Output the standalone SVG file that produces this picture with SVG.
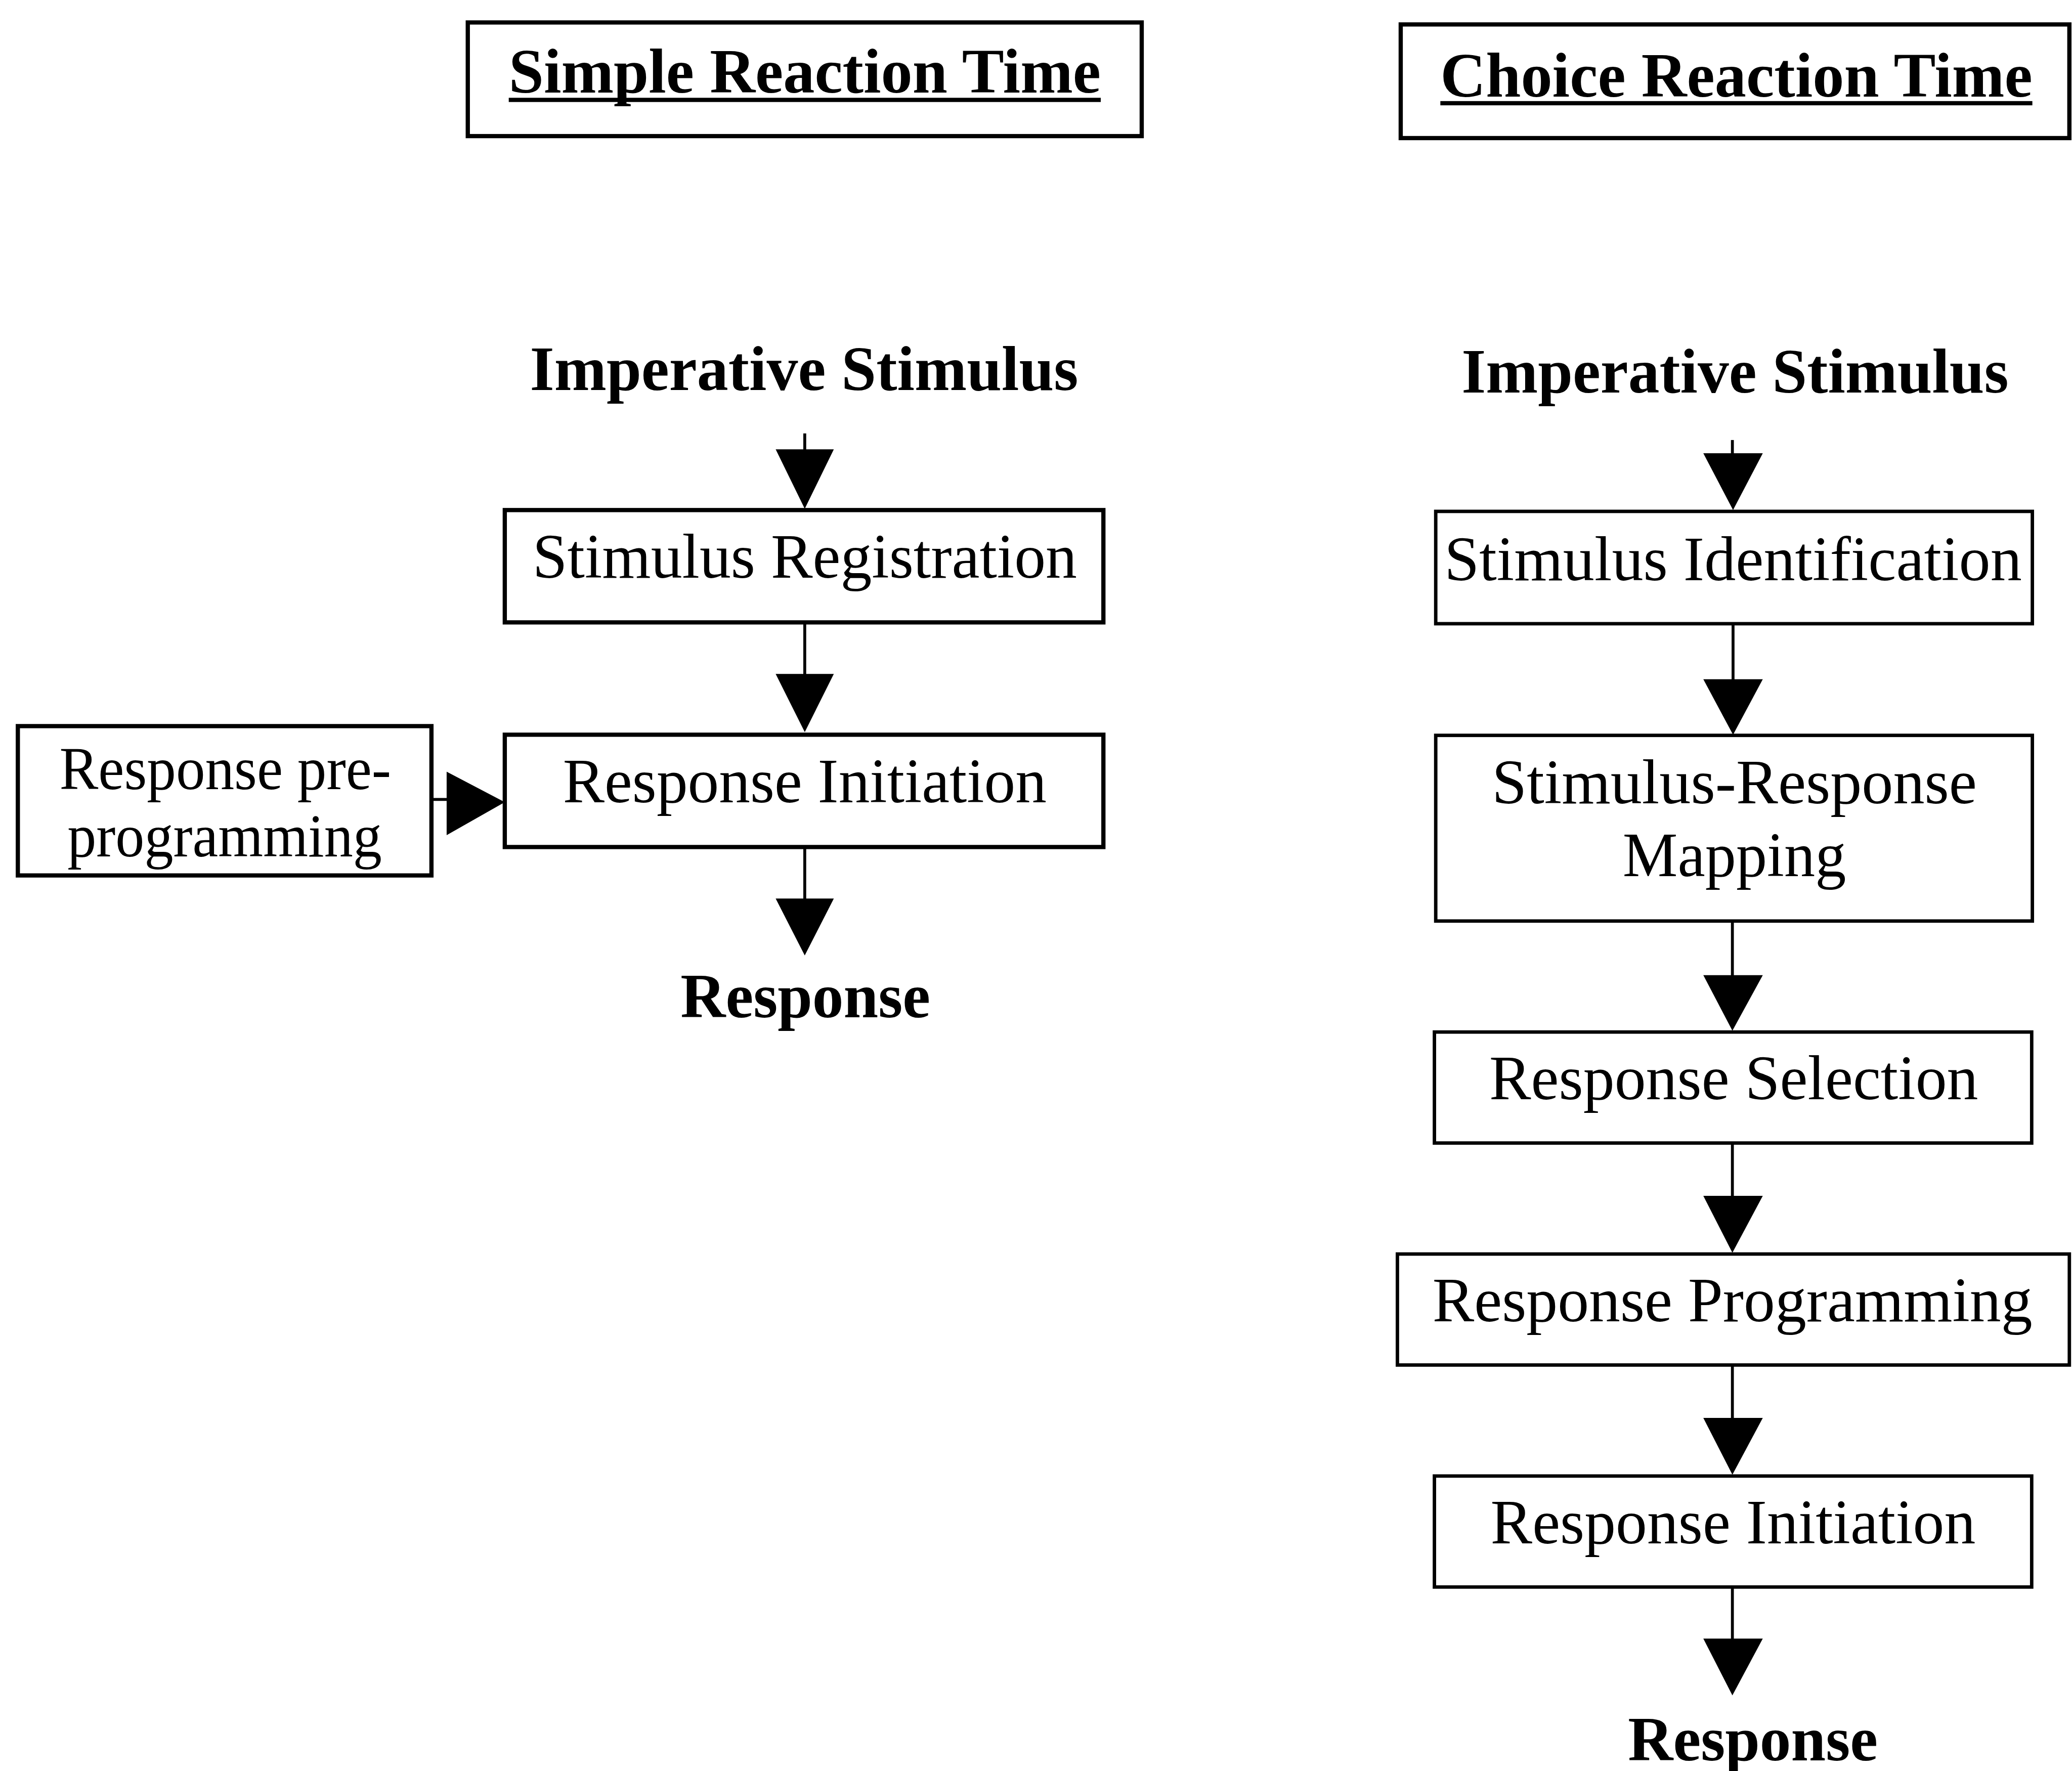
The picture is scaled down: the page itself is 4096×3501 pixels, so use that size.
<svg xmlns="http://www.w3.org/2000/svg" width="4096" height="3501" viewBox="0 0 4096 3501">
  <defs>
    <style>
      .box { fill: #fff; stroke: #000; stroke-width: 2.6; }
      .thick { stroke-width: 3.2; }
      .lbl { font-family: "Liberation Serif", "Times New Roman", serif; font-size: 47.5px; fill: #000; text-anchor: middle; }
      .small { font-size: 46px; }
      .bold { font-weight: bold; }
      .wire { stroke: #000; stroke-width: 2.2; fill: none; }
      .head { fill: #000; stroke: none; }
    </style>
  </defs>
  <rect width="4096" height="3501" fill="#fff"/>
  <g transform="scale(2.612245)">
    <!-- Simple reaction time column -->
    <g id="title-simple">
      <rect class="box thick" x="354" y="17" width="510" height="86"/>
      <text class="lbl bold" x="609" y="70" textLength="448" lengthAdjust="spacingAndGlyphs">Simple Reaction Time</text>
      <rect x="385" y="74" width="448" height="3.2" fill="#000"/>
    </g>
    <g id="stim-simple">
      <text class="lbl bold" x="608.5" y="295" textLength="415" lengthAdjust="spacingAndGlyphs">Imperative Stimulus</text>
    </g>
    <g id="stimulus-registration">
      <rect class="box thick" x="382" y="386" width="453" height="85"/>
      <text class="lbl" x="609" y="437" textLength="412" lengthAdjust="spacingAndGlyphs">Stimulus Registration</text>
    </g>
    <g id="response-initiation-simple">
      <rect class="box thick" x="382" y="556" width="453" height="85"/>
      <text class="lbl" x="609" y="607" textLength="366" lengthAdjust="spacingAndGlyphs">Response Initiation</text>
    </g>
    <g id="response-preprogramming">
      <rect class="box thick" x="13.5" y="549.5" width="313" height="113"/>
      <text class="lbl small" x="170.5" y="597" textLength="251" lengthAdjust="spacingAndGlyphs">Response pre-</text>
      <text class="lbl small" x="170" y="648" textLength="238" lengthAdjust="spacingAndGlyphs">programming</text>
    </g>
    <g id="response-simple">
      <text class="lbl bold" x="609.5" y="770" textLength="189" lengthAdjust="spacingAndGlyphs">Response</text>
    </g>

    <!-- Choice reaction time column -->
    <g id="title-choice">
      <rect class="box thick" x="1060" y="18.5" width="506" height="86"/>
      <text class="lbl bold" x="1314" y="73" textLength="448" lengthAdjust="spacingAndGlyphs">Choice Reaction Time</text>
      <rect x="1090" y="76.5" width="448" height="3.2" fill="#000"/>
    </g>
    <g id="stim-choice">
      <text class="lbl bold" x="1313" y="297" textLength="414" lengthAdjust="spacingAndGlyphs">Imperative Stimulus</text>
    </g>
    <g id="stimulus-identification">
      <rect class="box" x="1086.5" y="387" width="451.5" height="85"/>
      <text class="lbl" x="1311.5" y="439" textLength="437" lengthAdjust="spacingAndGlyphs">Stimulus Identification</text>
    </g>
    <g id="sr-mapping">
      <rect class="box" x="1086.5" y="556.5" width="451.5" height="140.5"/>
      <text class="lbl" x="1312.5" y="608" textLength="367" lengthAdjust="spacingAndGlyphs">Stimulus-Response</text>
      <text class="lbl" x="1312.5" y="663" textLength="169" lengthAdjust="spacingAndGlyphs">Mapping</text>
    </g>
    <g id="response-selection">
      <rect class="box" x="1085.5" y="781" width="452" height="84"/>
      <text class="lbl" x="1312" y="832" textLength="370" lengthAdjust="spacingAndGlyphs">Response Selection</text>
    </g>
    <g id="response-programming">
      <rect class="box" x="1057.5" y="949" width="508.5" height="84"/>
      <text class="lbl" x="1311" y="1000" textLength="454" lengthAdjust="spacingAndGlyphs">Response Programming</text>
    </g>
    <g id="response-initiation-choice">
      <rect class="box" x="1085.5" y="1117" width="452" height="84"/>
      <text class="lbl" x="1311.5" y="1168" textLength="367" lengthAdjust="spacingAndGlyphs">Response Initiation</text>
    </g>
    <g id="response-choice">
      <text class="lbl bold" x="1326.5" y="1332" textLength="189" lengthAdjust="spacingAndGlyphs">Response</text>
    </g>

    <!-- Connectors: shaft plus filled triangular head -->
    <g id="connectors">
      <line class="wire" x1="609" y1="328" x2="609" y2="345"/>
      <polygon class="head" points="587,340 631,340 609,385"/>
      <line class="wire" x1="609" y1="471" x2="609" y2="515"/>
      <polygon class="head" points="587,510 631,510 609,554"/>
      <line class="wire" x1="609" y1="641" x2="609" y2="685"/>
      <polygon class="head" points="587,680 631,680 609,723"/>
      <line class="wire" x1="326" y1="605" x2="342" y2="605"/>
      <polygon class="head" points="338,584 338,632 382,607"/>

      <line class="wire" x1="1311" y1="333" x2="1311" y2="348"/>
      <polygon class="head" points="1289,343 1334,343 1311.5,386"/>
      <line class="wire" x1="1311.5" y1="472" x2="1311.5" y2="519"/>
      <polygon class="head" points="1289,514 1334,514 1311.5,556"/>
      <line class="wire" x1="1311" y1="697" x2="1311" y2="743"/>
      <polygon class="head" points="1289,738 1334,738 1311,780"/>
      <line class="wire" x1="1311" y1="865" x2="1311" y2="910"/>
      <polygon class="head" points="1289,905 1334,905 1311,948"/>
      <line class="wire" x1="1311" y1="1033" x2="1311" y2="1078"/>
      <polygon class="head" points="1289,1073 1334,1073 1311,1116"/>
      <line class="wire" x1="1311" y1="1201" x2="1311" y2="1245"/>
      <polygon class="head" points="1289,1240 1334,1240 1311,1283"/>
    </g>
  </g>
</svg>
